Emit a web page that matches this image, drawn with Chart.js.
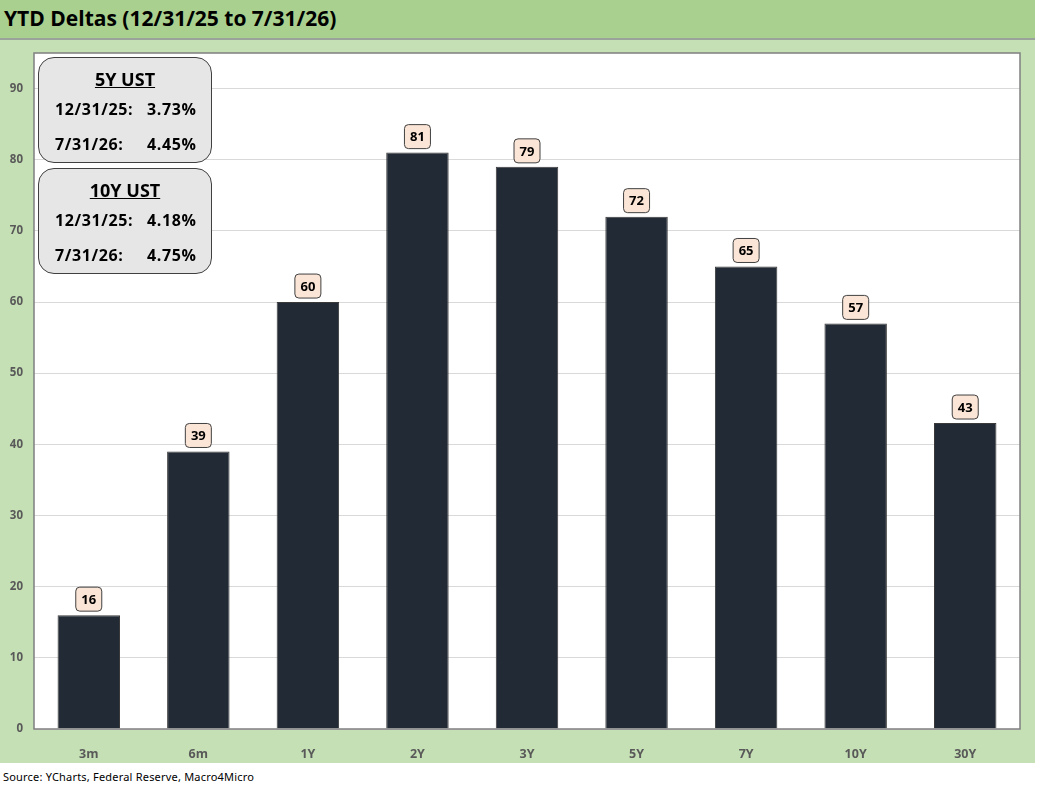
<!DOCTYPE html>
<html>
<head>
<meta charset="utf-8">
<script src="https://cdn.jsdelivr.net/npm/chart.js@4"></script>
<style>
  body { margin: 0; width: 1038px; height: 793px; background: #fff; position: relative; overflow: hidden; font-family: "Open Sans", "Noto Sans", sans-serif; }
  #titleBar { position: absolute; left: 0; top: 0; width: 1035px; height: 38px; background: #a9d08e; border-bottom: 2px solid #9aa39a; }
  #titleBar span { position: absolute; left: 4px; top: 4px; font-size: 21px; font-weight: bold; color: #000; }
  #panel { position: absolute; left: 0; top: 40px; width: 1035px; height: 723px; background: #c5e0b4; }
  .note { position: absolute; left: 38px; width: 174px; height: 106px; background: #e7e6e6; border: 1.5px solid #404040; border-radius: 16px; box-sizing: border-box; font-weight: bold; color: #000; }
  .note .hd { position: absolute; left: 0; right: 0; top: 9px; text-align: center; font-size: 18px; text-decoration: underline; }
  .note .row { position: absolute; left: 16px; font-size: 16px; font-weight: bold; letter-spacing: 0.6px; }
  .note .row span { position: absolute; left: 92px; white-space: nowrap; font-weight: bold; }
  #source { position: absolute; left: 3px; top: 769px; font-size: 11px; color: #000; font-family: "Noto Sans", sans-serif; letter-spacing: 0.2px; }
</style>
</head>
<body>
<div id="titleBar"><span>YTD Deltas (12/31/25 to 7/31/26)</span></div>
<div id="panel"><canvas id="ytdChart" width="1035" height="723"></canvas></div>

<div class="note" style="top:57px">
  <div class="hd">5Y UST</div>
  <div class="row" style="top:40px">12/31/25:<span>3.73%</span></div>
  <div class="row" style="top:75px">7/31/26:<span>4.45%</span></div>
</div>
<div class="note" style="top:168px">
  <div class="hd">10Y UST</div>
  <div class="row" style="top:40px">12/31/25:<span>4.18%</span></div>
  <div class="row" style="top:75px">7/31/26:<span>4.75%</span></div>
</div>

<div id="source">Source: YCharts, Federal Reserve, Macro4Micro</div>

<script>
const tenors = ['3m', '6m', '1Y', '2Y', '3Y', '5Y', '7Y', '10Y', '30Y'];
const deltas = [16, 39, 60, 81, 79, 72, 65, 57, 43];
const yTicks = [0, 10, 20, 30, 40, 50, 60, 70, 80, 90];

// white plot area with frame
const plotFrame = {
  id: 'plotFrame',
  beforeDraw(chart) {
    const a = chart.chartArea, ctx = chart.ctx;
    ctx.save();
    ctx.fillStyle = '#ffffff';
    ctx.fillRect(a.left, a.top, a.right - a.left, a.bottom - a.top);
    ctx.restore();
  },
  afterDatasetsDraw(chart) {
    const a = chart.chartArea, ctx = chart.ctx;
    ctx.save();
    ctx.strokeStyle = '#7f7f7f';
    ctx.lineWidth = 1.5;
    ctx.strokeRect(a.left, a.top, a.right - a.left, a.bottom - a.top);
    ctx.restore();
  }
};

// value boxes above the bars
const valueBoxes = {
  id: 'valueBoxes',
  afterDatasetsDraw(chart) {
    const ctx = chart.ctx;
    const meta = chart.getDatasetMeta(0);
    ctx.save();
    ctx.font = 'bold 13px "Open Sans", sans-serif';
    ctx.textAlign = 'center';
    ctx.textBaseline = 'middle';
    meta.data.forEach(function(bar, i) {
      const w = 26, h = 24;
      const x = bar.x - w / 2, y = bar.y - 4 - h;
      ctx.beginPath();
      ctx.roundRect(x, y, w, h, 4);
      ctx.fillStyle = '#fbe5d6';
      ctx.fill();
      ctx.lineWidth = 1;
      ctx.strokeStyle = '#404040';
      ctx.stroke();
      ctx.fillStyle = '#000';
      ctx.fillText(deltas[i], bar.x, y + h / 2 + 1);
    });
    ctx.restore();
  }
};

new Chart(document.getElementById('ytdChart').getContext('2d'), {
  type: 'bar',
  data: {
    labels: tenors,
    datasets: [{
      data: deltas,
      backgroundColor: '#222a35',
      borderColor: '#3a3a3a',
      borderWidth: 1,
      categoryPercentage: 1,
      barPercentage: 0.57
    }]
  },
  options: {
    responsive: false,
    animation: false,
    layout: { padding: { top: 13, right: 15, left: 0, bottom: 0 } },
    plugins: { legend: { display: false }, tooltip: { enabled: false } },
    scales: {
      x: {
        grid: { display: false },
        border: { display: false },
        ticks: { color: '#595959', font: { size: 12.5, weight: 'bold', family: '"Open Sans", sans-serif' }, padding: 10 },
        afterFit: function(s) { s.height = 34; }
      },
      y: {
        min: 0,
        max: 95,
        afterBuildTicks: function(s) { s.ticks = yTicks.map(v => ({ value: v })); },
        grid: { color: '#d9d9d9', lineWidth: 1, drawTicks: false },
        border: { display: false },
        ticks: { color: '#595959', font: { size: 11.5, weight: 'bold', family: '"Open Sans", sans-serif' }, padding: 11 },
        afterFit: function(s) { s.width = 34; s.paddingTop = 0; }
      }
    }
  },
  plugins: [plotFrame, valueBoxes]
});
</script>
</body>
</html>
